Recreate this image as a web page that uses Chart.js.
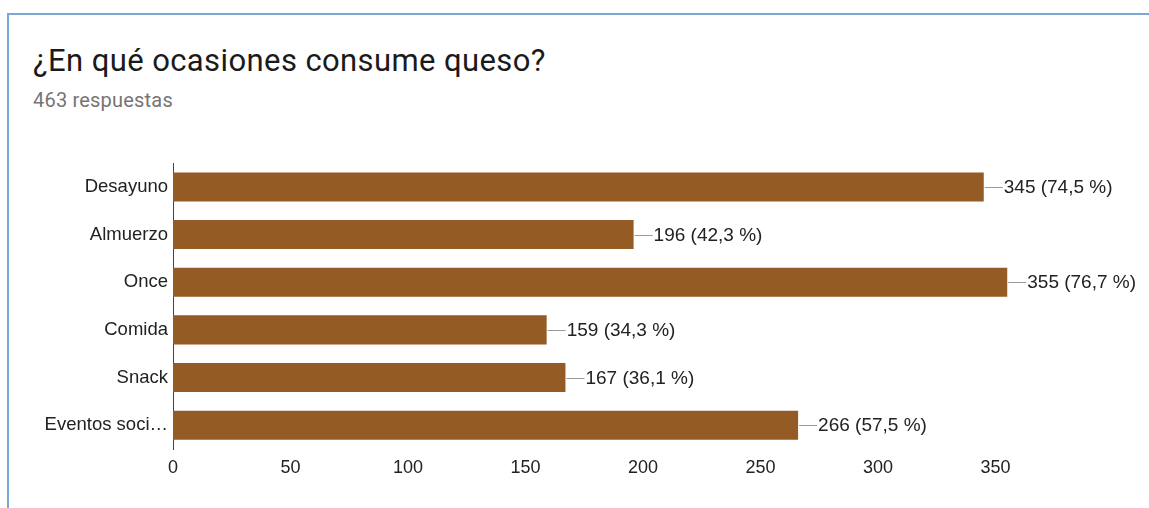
<!DOCTYPE html>
<html lang="es">
<head>
<meta charset="utf-8">
<title>¿En qué ocasiones consume queso?</title>
<script src="https://cdn.jsdelivr.net/npm/chart.js@4"></script>
<style>
  html, body { margin: 0; padding: 0; background: #fff; overflow: hidden; }
  body { width: 1149px; height: 508px; position: relative; }
  .card {
    position: absolute; left: 7px; top: 13px; width: 1200px; height: 560px;
    border-left: 2px solid #7aa6d8; border-top: 2px solid #7aa6d8;
    box-sizing: border-box;
  }
  .title {
    position: absolute; left: 33px; top: 42px; margin: 0; white-space: nowrap;
    font: 400 31px Roboto, "Liberation Sans", sans-serif; letter-spacing: 0.4px; color: #1a1a1a;
  }
  .subtitle {
    position: absolute; left: 33px; top: 88px; white-space: nowrap;
    font: 400 20px Roboto, "Liberation Sans", sans-serif; letter-spacing: 0.2px; color: #757575;
  }
  .chart-box { position: absolute; left: 0; top: 147px; width: 1149px; height: 343px; }
</style>
</head>
<body>
<div class="card"></div>
<h1 class="title">¿En qué ocasiones consume queso?</h1>
<div class="subtitle">463 respuestas</div>
<div class="chart-box"><canvas id="chart"></canvas></div>
<script>
const totalResponses = 463;
const categories = ['Desayuno', 'Almuerzo', 'Once', 'Comida', 'Snack', 'Eventos soci…'];
const counts = [345, 196, 355, 159, 167, 266];
const tickValues = [0, 50, 100, 150, 200, 250, 300, 350];

const pct = v => (v / totalResponses * 100).toFixed(1).replace('.', ',');
const fontFamily = '"Liberation Sans", Arial, sans-serif';

// value labels with a short leader line after each bar
const valueLabels = {
  id: 'valueLabels',
  afterDatasetsDraw(chart) {
    const ctx = chart.ctx;
    const meta = chart.getDatasetMeta(0);
    ctx.save();
    ctx.font = '19px ' + fontFamily;
    ctx.fillStyle = '#222';
    ctx.textBaseline = 'middle';
    meta.data.forEach((bar, i) => {
      const x = bar.x, y = bar.y;
      ctx.strokeStyle = '#999';
      ctx.lineWidth = 1;
      ctx.beginPath();
      ctx.moveTo(x + 1, Math.round(y) + 0.5);
      ctx.lineTo(x + 19, Math.round(y) + 0.5);
      ctx.stroke();
      ctx.fillText(`${counts[i]} (${pct(counts[i])} %)`, x + 20, y + 1);
    });
    ctx.restore();
  }
};

new Chart(document.getElementById('chart'), {
  type: 'bar',
  data: {
    labels: categories,
    datasets: [{
      data: counts,
      backgroundColor: '#945b24',
      borderWidth: 0,
      barPercentage: 0.61,
      categoryPercentage: 1
    }]
  },
  options: {
    indexAxis: 'y',
    responsive: true,
    maintainAspectRatio: false,
    animation: false,
    layout: { padding: { top: 10, right: 83, left: 0, bottom: 0 } },
    plugins: { legend: { display: false }, tooltip: { enabled: false } },
    scales: {
      x: {
        min: 0,
        max: 380,
        grid: { display: false, drawTicks: false },
        border: { display: false },
        afterBuildTicks: axis => { axis.ticks = tickValues.map(v => ({ value: v })); },
        afterFit: axis => { axis.height = 41; },
        ticks: {
          padding: 8,
          color: '#222',
          font: { family: fontFamily, size: 18 }
        }
      },
      y: {
        grid: { display: false, drawTicks: false },
        border: { display: true, color: '#444', width: 1 },
        afterFit: axis => { axis.width = 173; },
        ticks: {
          padding: 5,
          color: '#222',
          font: { family: fontFamily, size: 18.5 }
        }
      }
    }
  },
  plugins: [valueLabels]
});
</script>
</body>
</html>
